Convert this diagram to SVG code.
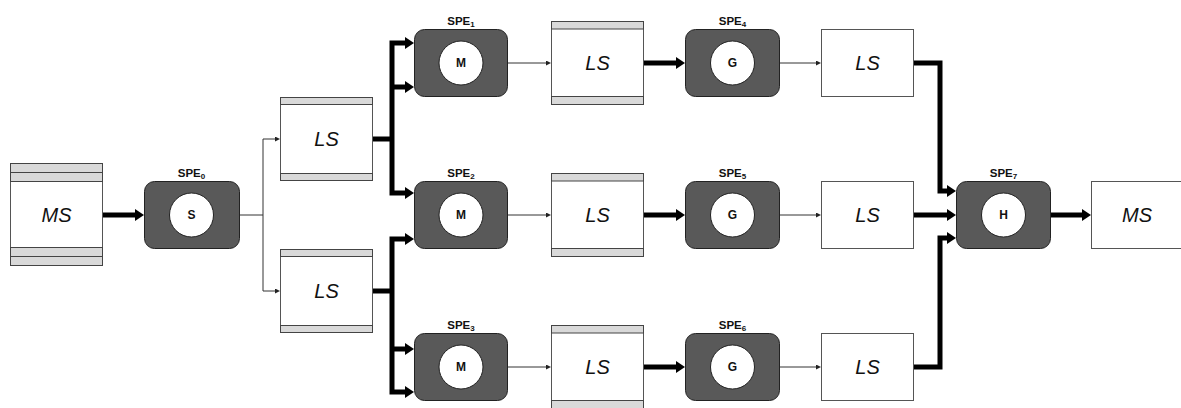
<svg xmlns="http://www.w3.org/2000/svg" width="1181" height="408" viewBox="0 0 1181 408">
<style>
.box{fill:#fff;stroke:#555;stroke-width:1}
.stripe{fill:#d9d9d9;stroke:#444;stroke-width:1}
.spe{fill:#595959;stroke:#222;stroke-width:1}
.core{fill:#fff;stroke:#222;stroke-width:1}
.ls{font-family:"Liberation Sans",Arial,sans-serif;font-style:italic;font-size:20px;fill:#111;text-anchor:middle;dominant-baseline:central}
.lbl{font-family:"Liberation Sans",Arial,sans-serif;font-weight:bold;font-size:11.5px;fill:#111;text-anchor:middle}
.sub{font-size:8px}
.cl{font-family:"Liberation Sans",Arial,sans-serif;font-weight:bold;font-size:12px;fill:#111;text-anchor:middle;dominant-baseline:central}
.thin{fill:none;stroke:#333;stroke-width:1;marker-end:url(#ah)}
.thin0{fill:none;stroke:#333;stroke-width:1}
.thick{fill:none;stroke:#000;stroke-width:5;stroke-linejoin:miter}
.te{marker-end:url(#AH)}
.ts{marker-start:url(#AH)}
</style>
<defs>
<marker id="AH" markerUnits="userSpaceOnUse" viewBox="0 -6 9 12" markerWidth="9" markerHeight="12" refX="0" refY="0" orient="auto-start-reverse"><path d="M0,-6 L9,0 L0,6 z" fill="#000"/></marker>
<marker id="ah" markerUnits="userSpaceOnUse" viewBox="0 -2.5 5 5" markerWidth="5" markerHeight="5" refX="0" refY="0" orient="auto"><path d="M0,-2.5 L5,0 L0,2.5 z" fill="#222"/></marker>
</defs>
<rect width="1181" height="408" fill="#fff"/>

<g id="connectors">
<path class="thin0" d="M240,215 H263 M263,139 V291"/>
<path class="thin" d="M263,139 H275"/>
<path class="thin" d="M263,291 H275"/>
<path class="thin" d="M508,63 H546"/>
<path class="thin" d="M508,215 H546"/>
<path class="thin" d="M508,367 H546"/>
<path class="thin" d="M780,63 H816"/>
<path class="thin" d="M780,215 H816"/>
<path class="thin" d="M780,367 H816"/>
<path class="thick te" d="M102,215 H135"/>
<path class="thick" d="M373,139 H392"/>
<path class="thick ts te" d="M405,43 H392 V193 H405"/>
<path class="thick te" d="M392,87 H405"/>
<path class="thick" d="M373,291 H392"/>
<path class="thick ts te" d="M405,239 H392 V392 H405"/>
<path class="thick te" d="M392,349 H405"/>
<path class="thick te" d="M644,63 H676"/>
<path class="thick te" d="M644,215 H676"/>
<path class="thick te" d="M644,367 H676"/>
<path class="thick te" d="M914,63 H940 V191 H947"/>
<path class="thick te" d="M914,215 H947"/>
<path class="thick te" d="M914,367 H940 V238 H947"/>
<path class="thick te" d="M1051,215 H1082"/>
</g>

<g id="ms_in">
<rect class="box" x="10.5" y="163.5" width="92" height="102"/>
<rect class="stripe" x="10.5" y="163.5" width="92" height="9"/>
<rect class="stripe" x="10.5" y="172.5" width="92" height="9"/>
<rect class="stripe" x="10.5" y="247.5" width="92" height="9"/>
<rect class="stripe" x="10.5" y="256.5" width="92" height="9"/>
<text class="ls" x="56.5" y="215">MS</text>
</g>

<g id="spe0">
<text class="lbl" x="191.5" y="177">SPE<tspan class="sub" dy="1.5">0</tspan></text>
<rect class="spe" x="144.5" y="181.5" width="95" height="67" rx="10"/>
<circle class="core" cx="191.5" cy="215" r="22"/>
<text class="cl" x="191.5" y="215">S</text>
</g>

<g id="ls_a">
<rect class="box" x="280.5" y="97.5" width="92" height="83"/>
<rect class="stripe" x="280.5" y="97.5" width="92" height="7"/>
<rect class="stripe" x="280.5" y="173.5" width="92" height="7"/>
<text class="ls" x="326.5" y="139">LS</text>
</g>
<g id="ls_b">
<rect class="box" x="280.5" y="249.5" width="92" height="83"/>
<rect class="stripe" x="280.5" y="249.5" width="92" height="7"/>
<rect class="stripe" x="280.5" y="325.5" width="92" height="7"/>
<text class="ls" x="326.5" y="291">LS</text>
</g>

<g id="spe1">
<text class="lbl" x="461" y="25">SPE<tspan class="sub" dy="1.5">1</tspan></text>
<rect class="spe" x="414.5" y="29.5" width="93" height="67" rx="10"/>
<circle class="core" cx="461" cy="63" r="22"/>
<text class="cl" x="461" y="63">M</text>
</g>
<g id="spe2">
<text class="lbl" x="461" y="177">SPE<tspan class="sub" dy="1.5">2</tspan></text>
<rect class="spe" x="414.5" y="181.5" width="93" height="67" rx="10"/>
<circle class="core" cx="461" cy="215" r="22"/>
<text class="cl" x="461" y="215">M</text>
</g>
<g id="spe3">
<text class="lbl" x="461" y="329">SPE<tspan class="sub" dy="1.5">3</tspan></text>
<rect class="spe" x="414.5" y="333.5" width="93" height="67" rx="10"/>
<circle class="core" cx="461" cy="367" r="22"/>
<text class="cl" x="461" y="367">M</text>
</g>

<g id="ls_c">
<rect class="box" x="551.5" y="21.5" width="92" height="83"/>
<rect class="stripe" x="551.5" y="21.5" width="92" height="7.5"/>
<rect class="stripe" x="551.5" y="96.5" width="92" height="8"/>
<text class="ls" x="597.5" y="63">LS</text>
</g>
<g id="ls_d">
<rect class="box" x="551.5" y="173.5" width="92" height="83"/>
<rect class="stripe" x="551.5" y="173.5" width="92" height="7.5"/>
<rect class="stripe" x="551.5" y="248.5" width="92" height="8"/>
<text class="ls" x="597.5" y="215">LS</text>
</g>
<g id="ls_e">
<rect class="box" x="551.5" y="325.5" width="92" height="83"/>
<rect class="stripe" x="551.5" y="325.5" width="92" height="7.5"/>
<rect class="stripe" x="551.5" y="400.5" width="92" height="8"/>
<text class="ls" x="597.5" y="367">LS</text>
</g>

<g id="spe4">
<text class="lbl" x="732.5" y="25">SPE<tspan class="sub" dy="1.5">4</tspan></text>
<rect class="spe" x="685.5" y="29.5" width="94" height="67" rx="10"/>
<circle class="core" cx="732.5" cy="63" r="22"/>
<text class="cl" x="732.5" y="63">G</text>
</g>
<g id="spe5">
<text class="lbl" x="732.5" y="177">SPE<tspan class="sub" dy="1.5">5</tspan></text>
<rect class="spe" x="685.5" y="181.5" width="94" height="67" rx="10"/>
<circle class="core" cx="732.5" cy="215" r="22"/>
<text class="cl" x="732.5" y="215">G</text>
</g>
<g id="spe6">
<text class="lbl" x="732.5" y="329">SPE<tspan class="sub" dy="1.5">6</tspan></text>
<rect class="spe" x="685.5" y="333.5" width="94" height="67" rx="10"/>
<circle class="core" cx="732.5" cy="367" r="22"/>
<text class="cl" x="732.5" y="367">G</text>
</g>

<g id="ls_f">
<rect class="box" x="821.5" y="29.5" width="92" height="67"/>
<text class="ls" x="867.5" y="63">LS</text>
</g>
<g id="ls_g">
<rect class="box" x="821.5" y="181.5" width="92" height="67"/>
<text class="ls" x="867.5" y="215">LS</text>
</g>
<g id="ls_h">
<rect class="box" x="821.5" y="333.5" width="92" height="67"/>
<text class="ls" x="867.5" y="367">LS</text>
</g>

<g id="spe7">
<text class="lbl" x="1003.5" y="177">SPE<tspan class="sub" dy="1.5">7</tspan></text>
<rect class="spe" x="956.5" y="181.5" width="94" height="67" rx="10"/>
<circle class="core" cx="1003.5" cy="215" r="22"/>
<text class="cl" x="1003.5" y="215">H</text>
</g>

<g id="ms_out">
<rect class="box" x="1091.5" y="181.5" width="100" height="67"/>
<text class="ls" x="1137" y="215">MS</text>
</g>
</svg>
